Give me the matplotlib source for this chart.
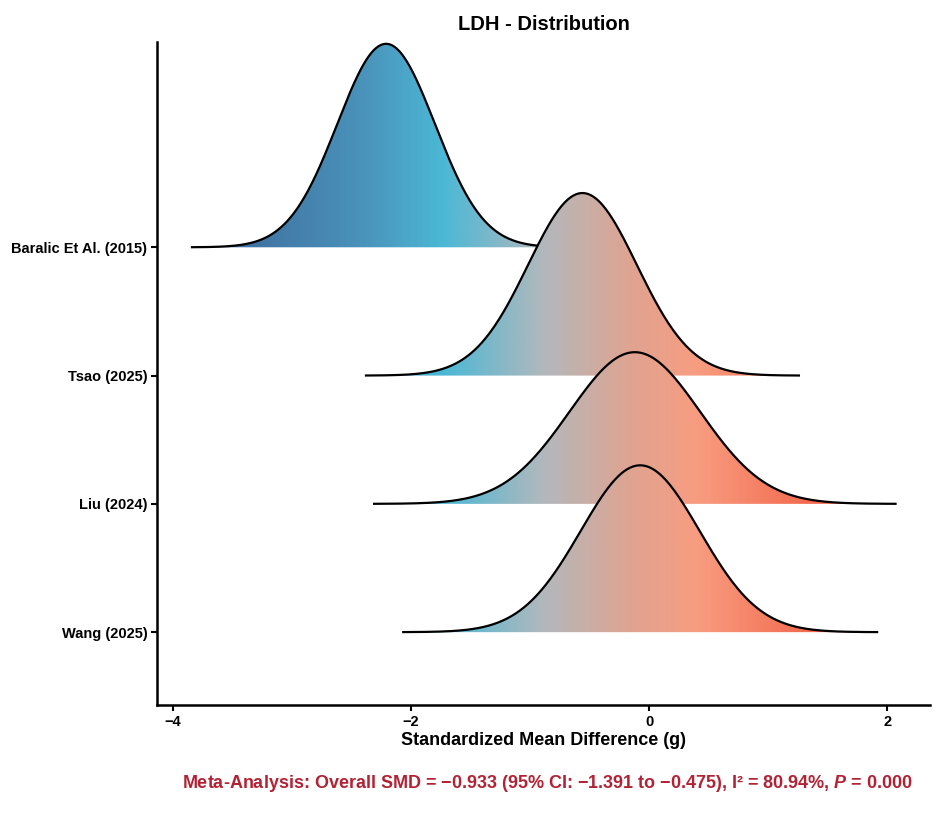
import numpy as np
import matplotlib
matplotlib.use("Agg")
import matplotlib.pyplot as plt
from matplotlib.colors import LinearSegmentedColormap
from matplotlib.patches import Polygon

plt.rcParams['font.family'] = ['Liberation Sans', 'DejaVu Sans']
plt.rcParams['mathtext.fontset'] = 'custom'
plt.rcParams['mathtext.rm'] = 'Liberation Sans:bold'
plt.rcParams['mathtext.it'] = 'Liberation Sans:bold:italic'
plt.rcParams['mathtext.bf'] = 'Liberation Sans:bold'

# Data (top to bottom)
studies = ["Baralic Et Al. (2015)", "Tsao (2025)", "Liu (2024)", "Wang (2025)"]
smd = [-2.21, -0.56, -0.12, -0.075]
sd = [0.41, 0.457, 0.55, 0.50]
xticks = [-4, -2, 0, 2]

title = "LDH - Distribution"
xlabel = "Standardized Mean Difference (g)"
footer = "Meta-Analysis: Overall SMD = \u22120.933 (95% CI: \u22121.391 to \u22120.475), I\u00b2 = 80.94%, $P$ = 0.000"

cmap = LinearSegmentedColormap.from_list("ridge", [
    (0.00, "#3a5a8c"),
    (0.05, "#3d6497"),
    (0.27, "#4a94bb"),
    (0.37, "#4cb8d6"),
    (0.50, "#b2b8bc"),
    (0.61, "#dfa492"),
    (0.70, "#f89c80"),
    (0.84, "#f36c50"),
    (1.00, "#ef5f47"),
])

fig = plt.figure(figsize=(9.52, 8.16), dpi=100)
ax = fig.add_axes([0.165, 0.136, 0.812, 0.8125])

xmin, xmax = -4.134, 2.361
ymin, ymax = 0.432, 5.60
ax.set_xlim(xmin, xmax)
ax.set_ylim(ymin, ymax)

scale = 1.63
n = len(studies)
grad = np.linspace(0, 1, 600).reshape(1, -1)
for i, (name, m, s) in enumerate(zip(studies, smd, sd)):
    base = n - i
    x = np.linspace(m - 4 * s, m + 4 * s, 400)
    y = base + scale * np.exp(-0.5 * ((x - m) / s) ** 2) / (s * np.sqrt(2 * np.pi))
    verts = np.column_stack([np.concatenate([x, x[::-1]]),
                             np.concatenate([y, np.full_like(x, base)])])
    poly = Polygon(verts, closed=True, facecolor='none', edgecolor='none', transform=ax.transData)
    ax.add_patch(poly)
    im = ax.imshow(grad, extent=[xmin, xmax, ymin, ymax], aspect='auto',
                   cmap=cmap, origin='lower', zorder=2 + 2 * i, interpolation='bilinear')
    im.set_clip_path(poly)
    ax.plot(x, y, color='black', lw=1.6, zorder=3 + 2 * i, solid_capstyle='butt')

ax.set_xlim(xmin, xmax)
ax.set_ylim(ymin, ymax)

ax.set_yticks([n - i for i in range(n)])
ax.set_yticklabels(studies, fontsize=10.5, fontweight='bold')
ax.set_xticks(xticks)
ax.set_xticklabels([f"{t}".replace("-", "\u2212") for t in xticks], fontsize=10.5, fontweight='bold')

for side in ['top', 'right']:
    ax.spines[side].set_visible(False)
for side in ['left', 'bottom']:
    ax.spines[side].set_linewidth(1.8)
ax.tick_params(axis='both', direction='out', length=4, width=1.5, colors='black', pad=3)

ax.set_title(title, fontsize=14.5, fontweight='bold', pad=9)
ax.set_xlabel(xlabel, fontsize=13, fontweight='bold', labelpad=2)

fig.text(0.5745, 0.04, footer, fontsize=13, fontweight='bold', color='#b22234',
         ha='center', va='center')

fig.savefig("out.png", dpi=100, facecolor='white')
